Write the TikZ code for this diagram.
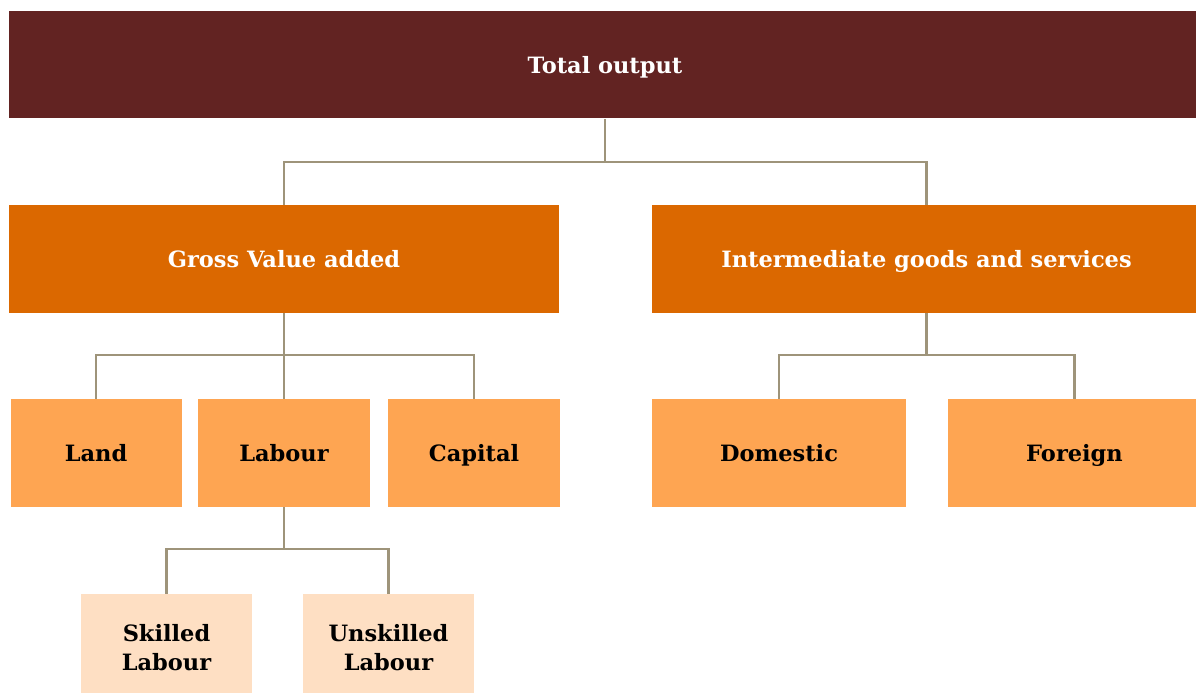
\documentclass[tikz,border=0pt]{standalone}
\usepackage{fontspec}
\setmainfont{DejaVu Serif}
\usetikzlibrary{calc,positioning}
\definecolor{maroon}{RGB}{98,35,34}
\definecolor{burnt}{RGB}{219,104,0}
\definecolor{apricot}{RGB}{254,165,82}
\definecolor{peach}{RGB}{254,223,195}
\definecolor{stem}{RGB}{158,148,122}
\tikzset{
    box/.style={
        rectangle,
        inner sep=2pt,
        align=center,
        minimum height=2.16cm,
        text height=2.1ex,
        text depth=0.25ex,
        font=\bfseries\fontsize{12.8}{16.5}\selectfont
    },
    totalbox/.style={box, fill=maroon, text=white, minimum width=23.84cm, minimum height=2.14cm},
    groupbox/.style={box, fill=burnt, text=white},
    factorbox/.style={box, fill=apricot, text=black},
    subbox/.style={box, fill=peach, text=black, minimum width=3.42cm, text height=, text depth=},
    link/.style={draw=stem, line width=1.3pt}
}
\begin{document}
\begin{tikzpicture}
\useasboundingbox (0,0) rectangle (23.92,-13.86);

% top level
\node[totalbox] (total) at (12.10,-1.30) {Total output};

% second level
\node[groupbox, minimum width=11.0cm] (gva) at (5.68,-5.18) {Gross Value added};
\node[groupbox, minimum width=10.98cm] (inter) at (18.53,-5.18) {Intermediate goods and services};

% factors
\node[factorbox, minimum width=3.42cm] (land) at (1.92,-9.06) {Land};
\node[factorbox, minimum width=3.44cm] (labour) at (5.68,-9.06) {Labour};
\node[factorbox, minimum width=3.44cm] (capital) at (9.48,-9.06) {Capital};
\node[factorbox, minimum width=5.08cm] (domestic) at (15.58,-9.06) {Domestic};
\node[factorbox, minimum width=5.06cm] (foreign) at (21.49,-9.06) {Foreign};

% labour split
\node[subbox] (skilled) at (3.33,-12.96) {Skilled\\Labour};
\node[subbox] (unskilled) at (7.77,-12.96) {Unskilled\\Labour};

% connectors
\draw[link] (total.south) -- ++(0,-0.86) coordinate (j0);
\draw[link] (gva.north) |- (j0) -| (inter.north);

\draw[link] (gva.south) -- ++(0,-0.84) coordinate (j1);
\draw[link] (land.north) |- (j1) -| (capital.north);
\draw[link] (j1) -- (labour.north);

\draw[link] (inter.south) -- ++(0,-0.84) coordinate (j2);
\draw[link] (domestic.north) |- (j2) -| (foreign.north);

\draw[link] (labour.south) -- ++(0,-0.84) coordinate (j3);
\draw[link] (skilled.north) |- (j3) -| (unskilled.north);

\end{tikzpicture}
\end{document}
